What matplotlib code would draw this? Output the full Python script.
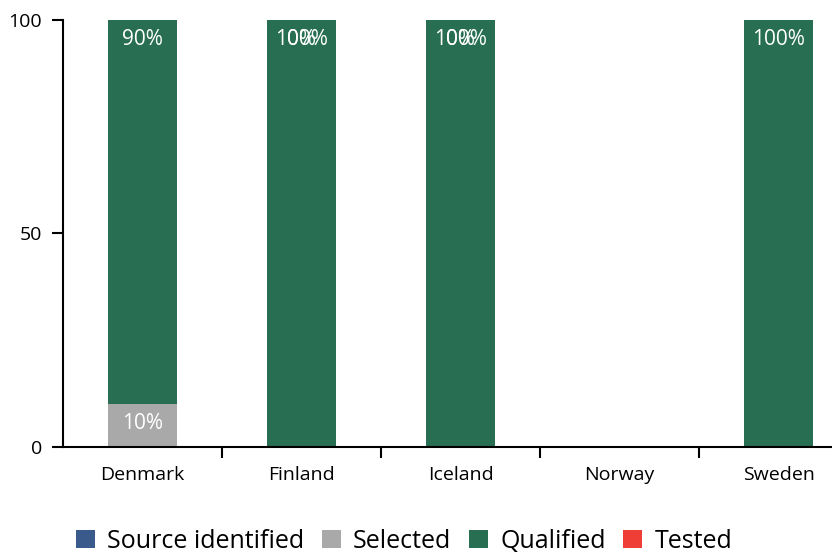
import numpy as np
import matplotlib.pyplot as plt

plt.rcParams['font.family'] = ['Open Sans', 'DejaVu Sans']

countries = ['Denmark', 'Finland', 'Iceland', 'Norway', 'Sweden']
series = ['Source identified', 'Selected', 'Qualified', 'Tested']
colors = ['#3a5a8c', '#a9a9a9', '#276e52', '#ee3e36']

source_identified = [np.nan, np.nan, np.nan, np.nan, np.nan]
selected = [10, np.nan, np.nan, np.nan, np.nan]
qualified = [90, 100, 100, np.nan, 100]
tested = [np.nan, 0, 0, np.nan, np.nan]

values = [source_identified, selected, qualified, tested]

fig = plt.figure(figsize=(8.32, 5.54), dpi=100)
ax = fig.add_axes([63 / 832, 107 / 554, 795 / 832, 427 / 554])

x = np.arange(len(countries))
bottom = np.zeros(len(countries))
for name, vals, col in zip(series, values, colors):
    v = np.array(vals, dtype=float)
    h = np.nan_to_num(v)
    ax.bar(x, h, 0.43, bottom=bottom, color=col, label=name)
    for i, val in enumerate(v):
        if not np.isnan(val):
            ax.text(x[i], bottom[i] + h[i] - 2.0, f'{val:.0f}%', ha='center', va='top',
                    color='white', fontsize=15)
    bottom += h

ax.set_xlim(-0.5, len(countries) - 0.5)
ax.set_ylim(0, 100)
ax.set_yticks([0, 50, 100])
ax.set_xticks(x)
ax.set_xticklabels(countries)
ax.set_xticks(np.arange(0.5, len(countries) - 0.5), minor=True)
ax.tick_params(axis='x', which='major', length=0, pad=14, labelsize=14)
ax.tick_params(axis='x', which='minor', length=8, width=1.5)
ax.tick_params(axis='y', length=8, width=1.5, labelsize=14, pad=7)
for s in ['top', 'right']:
    ax.spines[s].set_visible(False)
for s in ['left', 'bottom']:
    ax.spines[s].set_linewidth(1.5)

fig.legend(loc='center left', bbox_to_anchor=(66 / 832, 1 - 541 / 554), ncol=4, frameon=False,
           fontsize=18, handlelength=0.75, handleheight=0.75, handletextpad=0.5,
           columnspacing=0.7, borderaxespad=0.0)

fig.savefig('out.png', dpi=100)
